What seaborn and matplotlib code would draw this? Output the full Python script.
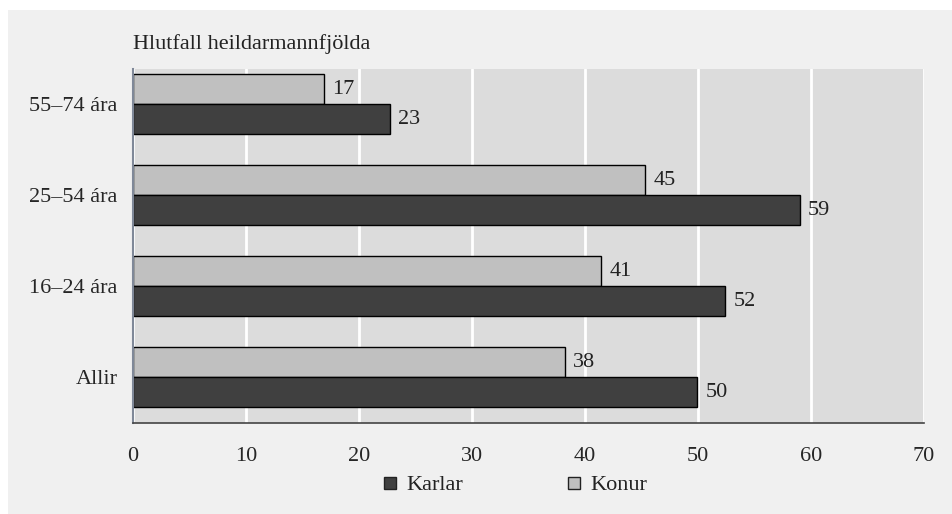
import matplotlib
matplotlib.use("Agg")
import matplotlib.pyplot as plt
from matplotlib.patches import Rectangle
from matplotlib.lines import Line2D
import pandas as pd
import seaborn as sns

# ── data ──────────────────────────────────────────────────
age_groups = ["55–74 ára", "25–54 ára", "16–24 ára", "Allir"]
konur = [16.9, 45.3, 41.4, 38.2]
karlar = [22.7, 59.0, 52.4, 49.9]
konur_labels = [17, 45, 41, 38]
karlar_labels = [23, 59, 52, 50]
x_ticks = [0, 10, 20, 30, 40, 50, 60, 70]

KONUR_COL = "#c0c0c0"
KARLAR_COL = "#404040"

df = pd.DataFrame({
    "Aldur": age_groups * 2,
    "Kyn": ["Konur"] * 4 + ["Karlar"] * 4,
    "Hlutfall": konur + karlar,
})

sns.set_theme(style="white")
plt.rcParams.update({
    "font.family": ["Liberation Serif", "DejaVu Serif"],
    "font.size": 16,
    "text.color": "#222222",
})

fig = plt.figure(figsize=(9.53, 5.14), dpi=100, facecolor="white")
# light grey panel behind everything
fig.patches.append(Rectangle((8 / 953, 0), 1, 1 - 10 / 514,
                             transform=fig.transFigure, facecolor="#f0f0f0",
                             edgecolor="none", zorder=-10))

ax = fig.add_axes([133 / 953, 1 - 423 / 514, (924 - 133) / 953, (423 - 69) / 514])
ax.set_facecolor("#dcdcdc")

sns.barplot(data=df, y="Aldur", x="Hlutfall", hue="Kyn", order=age_groups,
            hue_order=["Konur", "Karlar"], palette=[KONUR_COL, KARLAR_COL],
            orient="h", width=0.66, edgecolor="black", linewidth=1,
            legend=False, ax=ax)

for cont, labs in zip(ax.containers, [konur_labels, karlar_labels]):
    ax.bar_label(cont, labels=[str(v) for v in labs], padding=6,
                 fontsize=16, color="#222222")

ax.set_xlim(0, 70)
ax.set_ylim(3.505, -0.385)
ax.set_xticks(x_ticks)
ax.grid(axis="x", color="white", linewidth=2)
ax.set_axisbelow(True)
ax.tick_params(axis="x", length=0, pad=17, labelsize=16)
ax.tick_params(axis="y", length=0, pad=11, labelsize=16)
ax.set_xlabel("")
ax.set_ylabel("")

for side in ["top", "right"]:
    ax.spines[side].set_visible(False)
ax.spines["left"].set_color("#7f8898")
ax.spines["left"].set_linewidth(1.5)
ax.spines["bottom"].set_color("#444444")
ax.spines["bottom"].set_linewidth(1.2)

fig.text(133 / 953, 1 - 44 / 514, "Hlutfall heildarmannfjölda",
         ha="left", va="center", fontsize=16)

handles = [
    Line2D([], [], marker="s", linestyle="none", markersize=8.5,
           markerfacecolor=KARLAR_COL, markeredgecolor="#222222", label="Karlar"),
    Line2D([], [], marker="s", linestyle="none", markersize=8.5,
           markerfacecolor=KONUR_COL, markeredgecolor="#222222", label="Konur"),
]
fig.legend(handles=handles, ncol=2, loc="center", bbox_to_anchor=(0.541, 1 - 485 / 514),
           frameon=False, handlelength=0.55, handletextpad=0.45,
           columnspacing=4.7, fontsize=16)

fig.savefig("out.png", dpi=100, facecolor=fig.get_facecolor())
